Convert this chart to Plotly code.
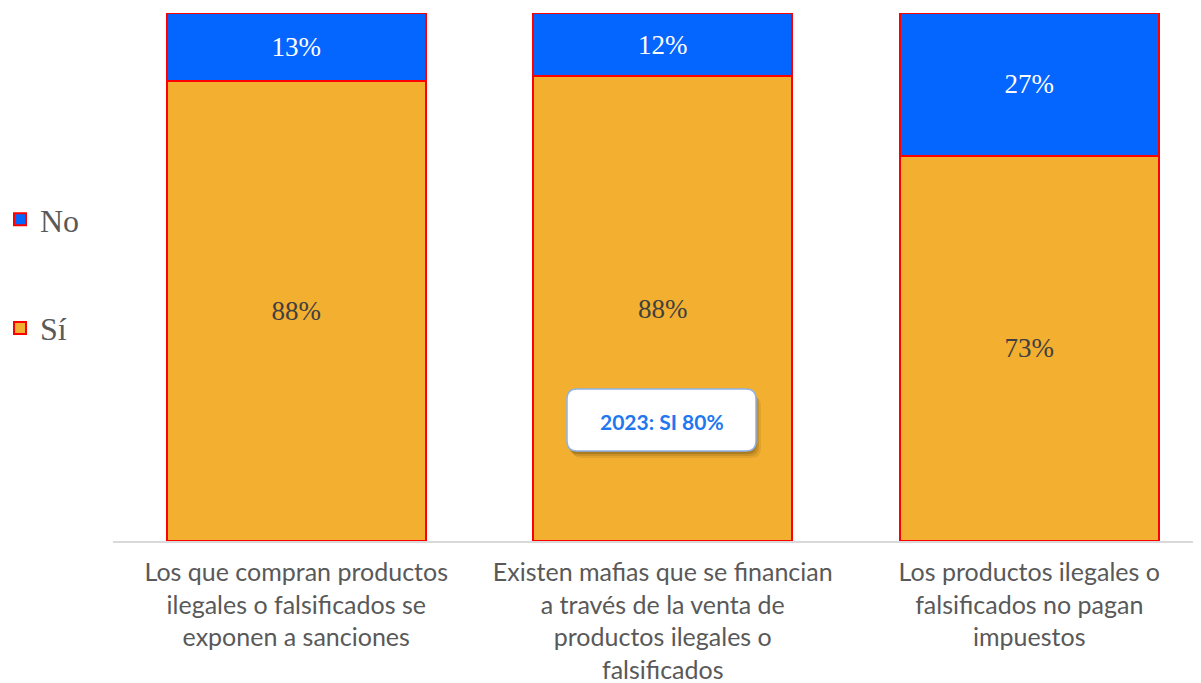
import plotly.graph_objects as go

categories = [
    "Los que compran productos<br>ilegales o falsificados se<br>exponen a sanciones",
    "Existen mafias que se financian<br>a través de la venta de<br>productos ilegales o<br>falsificados",
    "Los productos ilegales o<br>falsificados no pagan<br>impuestos",
]
si_values = [88, 88, 73]
no_values = [13, 12, 27]
note_text = "2023: SI 80%"

SERIF = "Liberation Serif, DejaVu Serif, serif"
W, H = 1201, 683
OFF = 8  # browser body margin
ML, MR, MT, MB = 113 - OFF, 0, 13 - OFF, 142 + OFF
pw, ph = W - ML - MR, H - MT - MB

fig = go.Figure()
fig.add_trace(go.Bar(
    x=categories, y=si_values, name="Sí", legendgroup="si", legendrank=2,
    text=[f"{v}%" for v in si_values], textposition="inside",
    insidetextanchor="middle", textangle=0,
    textfont=dict(family=SERIF, size=27, color="#404040"),
    marker=dict(color="#F3AF2F", line=dict(color="#FF0000", width=2)),
    hoverinfo="skip",
))
fig.add_trace(go.Bar(
    x=categories, y=no_values, name="No", legendgroup="no", legendrank=1,
    text=[f"{v}%" for v in no_values], textposition="inside",
    insidetextanchor="middle", textangle=0,
    textfont=dict(family=SERIF, size=27, color="#FFFFFF"),
    marker=dict(color="#0565FF", line=dict(color="#FF0000", width=2)),
    hoverinfo="skip",
))

def px2paper(x, y):
    # x, y are target-image pixel coordinates
    return (x - OFF - ML) / pw, 1 - (y - OFF - MT) / ph

def rounded_rect(x0, y0, x1, y1, r):
    def P(x, y):
        a, b = px2paper(x, y)
        return f"{a:.5f},{b:.5f}"
    return (f"M{P(x0 + r, y0)} L{P(x1 - r, y0)} Q{P(x1, y0)} {P(x1, y0 + r)} "
            f"L{P(x1, y1 - r)} Q{P(x1, y1)} {P(x1 - r, y1)} "
            f"L{P(x0 + r, y1)} Q{P(x0, y1)} {P(x0, y1 - r)} "
            f"L{P(x0, y0 + r)} Q{P(x0, y0)} {P(x0 + r, y0)} Z")

shapes = []
for off, alpha in [(7, 0.07), (5, 0.10), (3, 0.14)]:
    shapes.append(dict(type="path", xref="paper", yref="paper",
                       path=rounded_rect(567 + off - 2, 389 + off, 756 + off - 2, 451 + off, 10),
                       fillcolor=f"rgba(0,0,0,{alpha})", line=dict(width=0), layer="above"))
shapes.append(dict(type="path", xref="paper", yref="paper",
                   path=rounded_rect(567, 389, 756, 451, 10),
                   fillcolor="#FFFFFF", line=dict(color="#8DB3E8", width=1.5), layer="above"))

ax, ay = px2paper(661.5, 421)
lx, ly = px2paper(0, 274)

fig.update_layout(
    width=W, height=H,
    margin=dict(l=ML, r=MR, t=MT, b=MB, pad=0, autoexpand=False),
    paper_bgcolor="white", plot_bgcolor="white",
    barmode="stack", barnorm="percent", bargap=0.293,
    shapes=shapes,
    annotations=[dict(xref="paper", yref="paper", x=ax, y=ay, xanchor="center", yanchor="middle",
                      text=f"<b>{note_text}</b>", showarrow=False,
                      font=dict(family="Lato, Noto Sans, sans-serif", size=21, color="#1F78F0"))],
    xaxis=dict(range=[-0.5, -0.5 + pw / 366.5], showline=True, linecolor="#D9D9D9", linewidth=2,
               ticks="", showgrid=False, zeroline=False, ticklabelstandoff=8,
               tickfont=dict(family="Lato, sans-serif", size=25, color="#595959")),
    yaxis=dict(range=[0, 100], visible=False, showgrid=False, zeroline=False),
    legend=dict(x=lx, xanchor="left", y=ly, yanchor="middle",
                traceorder="grouped", tracegroupgap=64,
                font=dict(family=SERIF, size=32, color="#595959"),
                bgcolor="rgba(0,0,0,0)"),
    showlegend=True,
)

fig.write_html("out.html")
